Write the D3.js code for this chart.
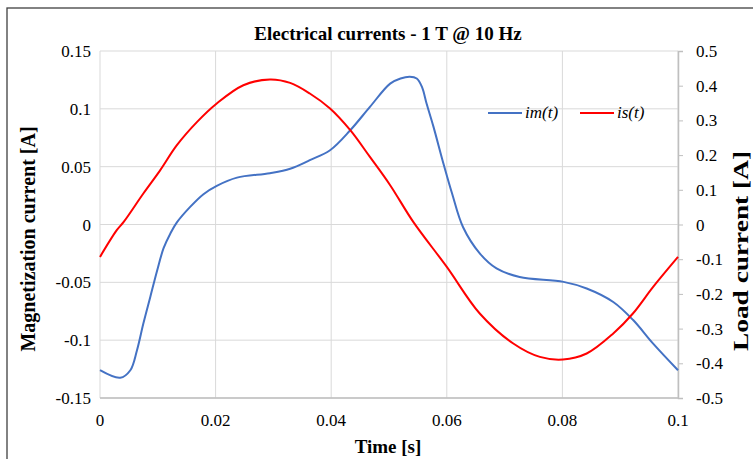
<!DOCTYPE html>
<html lang="en">
<head>
    <meta charset="UTF-8">
    <title>Electrical currents</title>
    <script src="https://d3js.org/d3.v7.min.js"></script>
    <style>
        body { margin: 0; background: #fff; }
        .grid line { stroke: #d9d9d9; stroke-width: 1px; }
        .tick-label { font-family: "Liberation Serif", "DejaVu Serif", serif; font-size: 17px; fill: #000; }
        .axis-title { font-family: "Liberation Serif", "DejaVu Serif", serif; font-size: 20px; font-weight: bold; fill: #000; }
        .line { fill: none; stroke-width: 2px; }
    </style>
</head>
<body>
<svg width="753" height="459"></svg>
<script>
    // magnetization current im(t) [A], left axis
    const imTime = [0, 0.0035, 0.00525, 0.0064, 0.0075, 0.0087, 0.0099, 0.011, 0.0122, 0.0133, 0.0156,
        0.0179, 0.0202, 0.0237, 0.0294, 0.0329, 0.0363, 0.0398, 0.0433, 0.0467, 0.0502, 0.052,
        0.0536, 0.0548, 0.0557, 0.0565, 0.0577, 0.0594, 0.0609, 0.0628, 0.0657, 0.0686, 0.0726,
        0.0802, 0.0842, 0.0888, 0.0922, 0.0957, 0.1];
    const imValues = [-0.126, -0.1325, -0.126, -0.1087, -0.0856, -0.0626, -0.0395, -0.0205, -0.0075, 0.0018, 0.0152,
        0.0262, 0.0334, 0.0405, 0.0444, 0.0482, 0.0556, 0.0642, 0.0815, 0.1017, 0.1218, 0.1262,
        0.1277, 0.1262, 0.119, 0.1046, 0.0844, 0.053, 0.027, -0.0022, -0.025, -0.038, -0.0454,
        -0.0496, -0.0553, -0.067, -0.0824, -0.103, -0.126];

    // load current is(t) [A], right axis
    const isTime = [0, 0.0029, 0.0041, 0.0075, 0.0104, 0.0133, 0.0168, 0.0202, 0.0248, 0.0294, 0.0329,
        0.0363, 0.0398, 0.0433, 0.0467, 0.0502, 0.0542, 0.06, 0.0657,
        0.0715, 0.0761, 0.0801, 0.0842, 0.0888, 0.0922, 0.0957, 0.1];
    const isValues = [-0.0934, -0.0164, 0.0075, 0.0893, 0.156, 0.2285, 0.2957, 0.3487, 0.4014, 0.4179, 0.408,
        0.3775, 0.3343, 0.2718, 0.1948, 0.1133, 0.0075, -0.1222, -0.2565,
        -0.343, -0.3816, -0.389, -0.3718, -0.3141, -0.2565, -0.1798, -0.0934];

    const xTicks = [0, 0.02, 0.04, 0.06, 0.08, 0.1];
    const leftTicks = [-0.15, -0.1, -0.05, 0, 0.05, 0.1, 0.15];
    const rightTicks = [-0.5, -0.4, -0.3, -0.2, -0.1, 0, 0.1, 0.2, 0.3, 0.4, 0.5];

    const svg = d3.select("svg");
    const margin = { top: 51, right: 75, bottom: 61, left: 100 };
    const width = 678 - margin.left;
    const height = 398 - margin.top;
    const fmt = d => d3.format("~g")(d).replace("\u2212", "-");
    const serif = '"Liberation Serif", "DejaVu Serif", serif';

    // outer frame
    svg.append("rect")
        .attr("x", 7).attr("y", 8)
        .attr("width", 760).attr("height", 470)
        .attr("fill", "none").attr("stroke", "#404040").attr("stroke-width", 1.3);

    const g = svg.append("g").attr("transform", `translate(${margin.left},${margin.top})`);

    const x = d3.scaleLinear().domain([0, 0.1]).range([0, width]);
    const yL = d3.scaleLinear().domain([-0.15, 0.15]).range([height, 0]);
    const yR = d3.scaleLinear().domain([-0.5, 0.5]).range([height, 0]);

    // gridlines
    const grid = g.append("g").attr("class", "grid");
    grid.selectAll(".gy").data(leftTicks).join("line")
        .attr("x1", 0).attr("x2", width)
        .attr("y1", d => yL(d)).attr("y2", d => yL(d));
    grid.selectAll(".gx").data(xTicks).join("line")
        .attr("x1", d => x(d)).attr("x2", d => x(d))
        .attr("y1", 0).attr("y2", height);

    // bottom axis line
    g.append("line")
        .attr("x1", 0).attr("x2", width).attr("y1", height).attr("y2", height)
        .attr("stroke", "#bfbfbf").attr("stroke-width", 1.5);

    // right axis with outside ticks
    const rAxis = g.append("g").attr("transform", `translate(${width},0)`)
        .call(d3.axisRight(yR).tickValues(rightTicks).tickSize(5).tickFormat(""));
    rAxis.select(".domain").attr("stroke", "#bfbfbf").attr("stroke-width", 1.5);
    rAxis.selectAll(".tick line").attr("stroke", "#bfbfbf");

    // tick labels
    g.selectAll(".xl").data(xTicks).join("text")
        .attr("class", "tick-label").style("font-family", serif)
        .attr("x", d => x(d)).attr("y", height + 28)
        .attr("text-anchor", "middle")
        .text(fmt);
    g.selectAll(".yl").data(leftTicks).join("text")
        .attr("class", "tick-label").style("font-family", serif)
        .attr("x", -9).attr("y", d => yL(d) + 6)
        .attr("text-anchor", "end")
        .text(fmt);
    g.selectAll(".yr").data(rightTicks).join("text")
        .attr("class", "tick-label").style("font-family", serif)
        .attr("x", width + 18).attr("y", d => yR(d) + 6)
        .attr("text-anchor", "start")
        .text(fmt);

    // lines
    const imData = imTime.map((t, i) => [t, imValues[i]]);
    const isData = isTime.map((t, i) => [t, isValues[i]]);

    g.append("path").datum(imData)
        .attr("class", "line").attr("stroke", "#4472c4")
        .attr("d", d3.line().x(d => x(d[0])).y(d => yL(d[1])).curve(d3.curveCatmullRom));
    g.append("path").datum(isData)
        .attr("class", "line").attr("stroke", "#ff0000")
        .attr("d", d3.line().x(d => x(d[0])).y(d => yR(d[1])).curve(d3.curveCatmullRom));

    // titles
    svg.append("text")
        .attr("class", "axis-title")
        .attr("x", 388).attr("y", 40)
        .attr("text-anchor", "middle")
        .style("font-size", "19px")
        .text("Electrical currents - 1 T @ 10 Hz");
    svg.append("text")
        .attr("class", "axis-title")
        .attr("x", 388).attr("y", 453)
        .attr("text-anchor", "middle")
        .style("font-size", "19px")
        .text("Time [s]");
    svg.append("text")
        .attr("class", "axis-title")
        .attr("transform", "translate(35,239) rotate(-90)")
        .attr("text-anchor", "middle")
        .text("Magnetization current [A]");
    svg.append("text")
        .attr("class", "axis-title")
        .attr("transform", "translate(748,251) rotate(-90)")
        .attr("text-anchor", "middle")
        .attr("textLength", 200)
        .attr("lengthAdjust", "spacingAndGlyphs")
        .text("Load current [A]");

    // legend
    const legend = svg.append("g").attr("transform", "translate(488,113)");
    const items = [
        { name: "im(t)", color: "#4472c4", dx: 0 },
        { name: "is(t)", color: "#ff0000", dx: 92 }
    ];
    items.forEach(it => {
        legend.append("line")
            .attr("x1", it.dx).attr("x2", it.dx + 34)
            .attr("y1", 0).attr("y2", 0)
            .attr("stroke", it.color).attr("stroke-width", 2);
        legend.append("text")
            .attr("class", "tick-label").style("font-family", serif)
            .attr("x", it.dx + 37).attr("y", 5)
            .style("font-style", "italic")
            .text(it.name);
    });
</script>
</body>
</html>
